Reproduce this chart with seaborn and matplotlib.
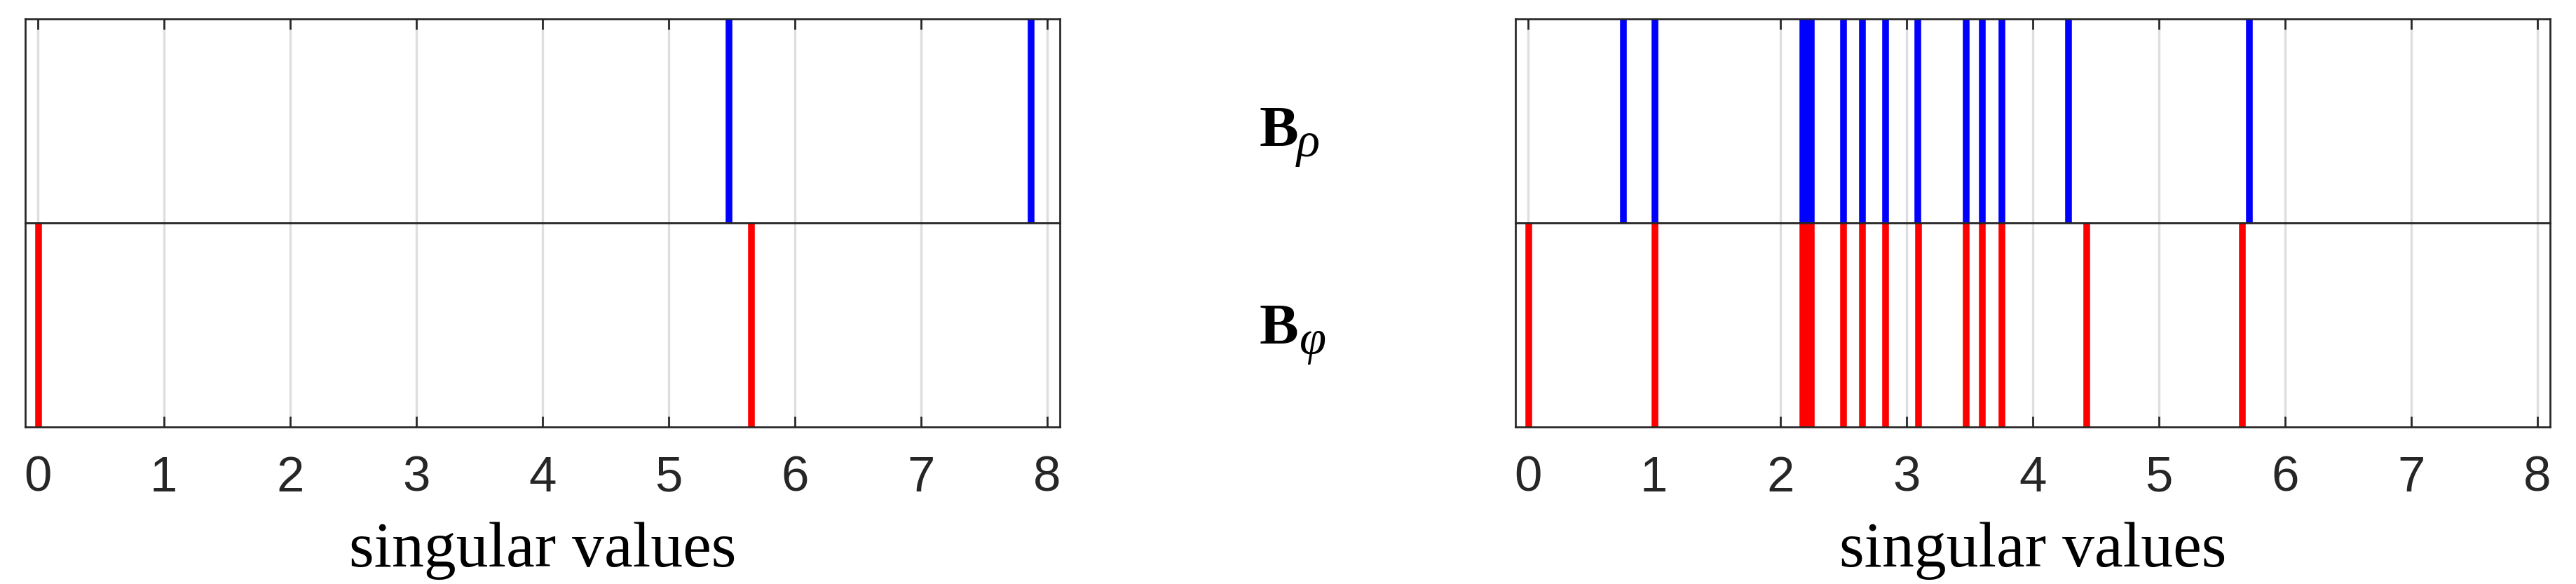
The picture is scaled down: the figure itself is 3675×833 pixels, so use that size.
import matplotlib
matplotlib.use("Agg")
import matplotlib.pyplot as plt
import seaborn as sns

# ---------------- data ----------------
# left panel
left_rho = [5.48, 7.87]
left_phi = [0.005, 5.655]
# right panel
right_rho = [0.755, 1.005, 2.18, 2.21, 2.245, 2.50, 2.65, 2.835, 3.09,
             3.475, 3.60, 3.755, 4.285, 5.72]
right_phi = [0.006, 1.005, 2.18, 2.21, 2.245, 2.50, 2.65, 2.835, 3.095,
             3.475, 3.60, 3.755, 4.43, 5.66]
x_ticks = [0, 1, 2, 3, 4, 5, 6, 7, 8]
row_subs = ["\u03c1", "\u03c6"]   # rho, phi
x_label = "singular values"

# ---------------- style ----------------
sns.set_style("white")
plt.rcParams["font.family"] = ["Liberation Sans", "DejaVu Sans"]
ink = "#262626"

fig = plt.figure(figsize=(12.25, 2.78))

panels = [
    (0.00971, left_rho, left_phi),
    (0.5882, right_rho, right_phi),
]
w = 0.4017
y_bot, y_mid, y_top = 0.2686, 0.6173, 0.9661

for x0, rho, phi in panels:
    ax_t = fig.add_axes([x0, y_mid, w, y_top - y_mid])
    ax_b = fig.add_axes([x0, y_bot, w, y_mid - y_bot])
    for ax, vals, col in [(ax_t, rho, "#0000ff"), (ax_b, phi, "#ff0000")]:
        sns.rugplot(x=vals, height=1, expand_margins=False, color=col,
                    linewidth=2.3, ax=ax)
        ax.set_xlim(-0.1, 8.1)
        ax.set_ylim(0, 1)
        ax.set_yticks([])
        ax.set_xticks(x_ticks)
        ax.set_axisbelow(True)
        ax.grid(axis="x", color="#dedede", linewidth=0.8)
        for s in ax.spines.values():
            s.set_visible(True)
            s.set_color(ink)
            s.set_linewidth(0.65)
    ax_t.tick_params(axis="x", direction="in", top=True, bottom=False,
                     labelbottom=False, length=3.6, width=0.65, color=ink)
    ax_b.tick_params(axis="x", direction="in", top=False, bottom=True,
                     length=3.6, width=0.65, color=ink, labelsize=17,
                     labelcolor=ink, pad=9.5)
    ax_b.set_xlabel(x_label, family="Liberation Serif", size=22,
                    color="black", labelpad=7)

# B_rho / B_phi labels in the middle
for yb, ys, sub, xs in [(0.7506, 0.7326, row_subs[0], 0.5034),
                        (0.4125, 0.3945, row_subs[1], 0.5046)]:
    fig.text(0.4889, yb, "B", family="Liberation Serif", weight="bold",
             size=20, va="baseline", ha="left", color="black")
    fig.text(xs, ys, sub, family="Liberation Serif", style="italic",
             size=16.5, va="baseline", ha="left", color="black")

fig.savefig("out.png", dpi=300)
